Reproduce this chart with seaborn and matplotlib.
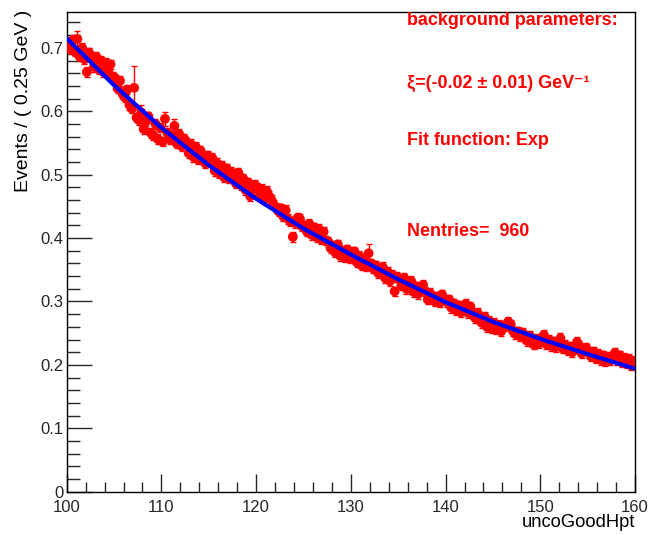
import numpy as np
import pandas as pd
import matplotlib
matplotlib.use("Agg")
import matplotlib.pyplot as plt
import seaborn as sns
from matplotlib.ticker import MultipleLocator

# ---- data (bin width 0.25 GeV, 100..160) ----
bin_low = 100.0
bin_width = 0.25
events = [
    0.705, 0.698, 0.712, 0.694, 0.714, 0.686, 0.700, 0.682, 0.662, 0.692,
    0.684, 0.670, 0.686, 0.666, 0.680, 0.662, 0.676, 0.664, 0.674, 0.655,
    0.652, 0.636, 0.648, 0.628, 0.622, 0.634, 0.610, 0.604, 0.637, 0.590,
    0.586, 0.598, 0.572, 0.584, 0.592, 0.566, 0.562, 0.580, 0.556, 0.574,
    0.552, 0.588, 0.566, 0.556, 0.562, 0.577, 0.549, 0.564, 0.545, 0.557,
    0.552, 0.534, 0.548, 0.528, 0.544, 0.524, 0.538, 0.528, 0.518, 0.530,
    0.520, 0.526, 0.506, 0.518, 0.502, 0.514, 0.496, 0.510, 0.494, 0.504,
    0.498, 0.486, 0.503, 0.484, 0.494, 0.476, 0.488, 0.466, 0.480, 0.484,
    0.480, 0.468, 0.477, 0.462, 0.474, 0.466, 0.460, 0.452, 0.448, 0.442,
    0.447, 0.434, 0.444, 0.430, 0.426, 0.402, 0.424, 0.432, 0.430, 0.418,
    0.420, 0.410, 0.422, 0.405, 0.417, 0.402, 0.414, 0.398, 0.410, 0.396,
    0.394, 0.384, 0.388, 0.377, 0.390, 0.372, 0.380, 0.369, 0.382, 0.368,
    0.374, 0.379, 0.362, 0.372, 0.357, 0.368, 0.355, 0.376, 0.360, 0.352,
    0.357, 0.345, 0.348, 0.354, 0.337, 0.347, 0.332, 0.342, 0.316, 0.339,
    0.334, 0.325, 0.337, 0.320, 0.327, 0.332, 0.315, 0.324, 0.312, 0.321,
    0.326, 0.316, 0.303, 0.313, 0.306, 0.300, 0.308, 0.298, 0.311, 0.303,
    0.299, 0.303, 0.290, 0.297, 0.286, 0.294, 0.283, 0.291, 0.296, 0.282,
    0.292, 0.280, 0.274, 0.282, 0.270, 0.266, 0.276, 0.260, 0.269, 0.258,
    0.266, 0.256, 0.263, 0.253, 0.261, 0.263, 0.268, 0.264, 0.253, 0.249,
    0.253, 0.245, 0.251, 0.242, 0.238, 0.246, 0.236, 0.232, 0.241, 0.234,
    0.241, 0.247, 0.233, 0.239, 0.230, 0.237, 0.228, 0.235, 0.242, 0.226,
    0.231, 0.223, 0.229, 0.220, 0.227, 0.236, 0.230, 0.218, 0.225, 0.227,
    0.219, 0.213, 0.221, 0.210, 0.217, 0.208, 0.215, 0.206, 0.213, 0.207,
    0.213, 0.219, 0.208, 0.215, 0.204, 0.211, 0.202, 0.209, 0.199, 0.206,
]
# typical error, with a few larger ones seen in the picture
err_typical = 0.0075
err_special = {4: 0.012, 28: 0.034, 31: 0.012, 41: 0.011, 45: 0.011, 127: 0.014}

fit_x = [100, 105, 110, 115, 120, 125, 130, 135, 140, 145, 150, 155, 160]
fit_y = [0.715, 0.641, 0.574, 0.515, 0.462, 0.415, 0.374, 0.335, 0.299, 0.268, 0.241, 0.217, 0.194]

text_lines = ["background parameters:",
              "\u03be=(-0.02 \u00b1 0.01) GeV\u207b\u00b9",
              "Fit function: Exp",
              "Nentries=  960"]

# ---- build tables ----
n = len(events)
x_centers = bin_low + bin_width * (np.arange(n) + 0.5)
yerr = np.full(n, err_typical)
for k, v in err_special.items():
    yerr[k] = v
df = pd.DataFrame({"x": x_centers, "y": events, "err": yerr})
fit_df = pd.DataFrame({"x": fit_x, "y": fit_y})

sns.set_style("ticks")
plt.rcParams["font.family"] = ["Liberation Sans", "DejaVu Sans"]

W, H = 652, 534
L, R, T, B = 66.7, 635.0, 11.7, 491.7
fig = plt.figure(figsize=(W / 100, H / 100), dpi=100)
ax = fig.add_axes([L / W, 1 - B / H, (R - L) / W, (B - T) / H])

ax.errorbar(df["x"], df["y"], yerr=df["err"], fmt="none", ecolor="red",
            elinewidth=1, capsize=2, capthick=1, zorder=2)
sns.scatterplot(data=df, x="x", y="y", ax=ax, color="red", s=50,
                edgecolor="none", linewidth=0, zorder=3, legend=False)
sns.lineplot(data=fit_df, x="x", y="y", ax=ax, color="#0000ff", linewidth=3,
             zorder=4, legend=False)

ax.set_xlim(100, 160)
ax.set_ylim(0, 0.757)
ax.xaxis.set_major_locator(MultipleLocator(10))
ax.xaxis.set_minor_locator(MultipleLocator(2))
ax.yaxis.set_major_locator(MultipleLocator(0.1))
ax.yaxis.set_minor_locator(MultipleLocator(0.02))
ax.tick_params(axis="x", which="major", direction="in", length=13, width=1,
               labelsize=12, pad=6)
ax.tick_params(axis="x", which="minor", direction="in", length=7, width=1)
ax.tick_params(axis="y", which="major", direction="in", length=18, width=1,
               labelsize=12, pad=2.5)
ax.tick_params(axis="y", which="minor", direction="in", length=9, width=1)
ax.set_yticks([0, 0.1, 0.2, 0.3, 0.4, 0.5, 0.6, 0.7])
ax.set_yticklabels(["0", "0.1", "0.2", "0.3", "0.4", "0.5", "0.6", "0.7"])
for sp in ax.spines.values():
    sp.set_color("black")
    sp.set_linewidth(1)

ax.set_xlabel("")
ax.set_ylabel("")
fig.text(R / W, 1 - 531 / H, "uncoGoodHpt", ha="right", va="bottom",
         fontsize=13.2, color="black")
fig.text(24 / W, 1 - 10 / H, "Events / ( 0.25 GeV )", rotation=90,
         ha="center", va="top", fontsize=14, color="black")

ys_base = [25, 88, 145, 236]
for s, yb in zip(text_lines, ys_base):
    fig.text(407 / W, 1 - yb / H, s, ha="left", va="baseline", fontsize=12.9,
             color="red", fontweight="bold")

fig.savefig("out.png", dpi=100)
